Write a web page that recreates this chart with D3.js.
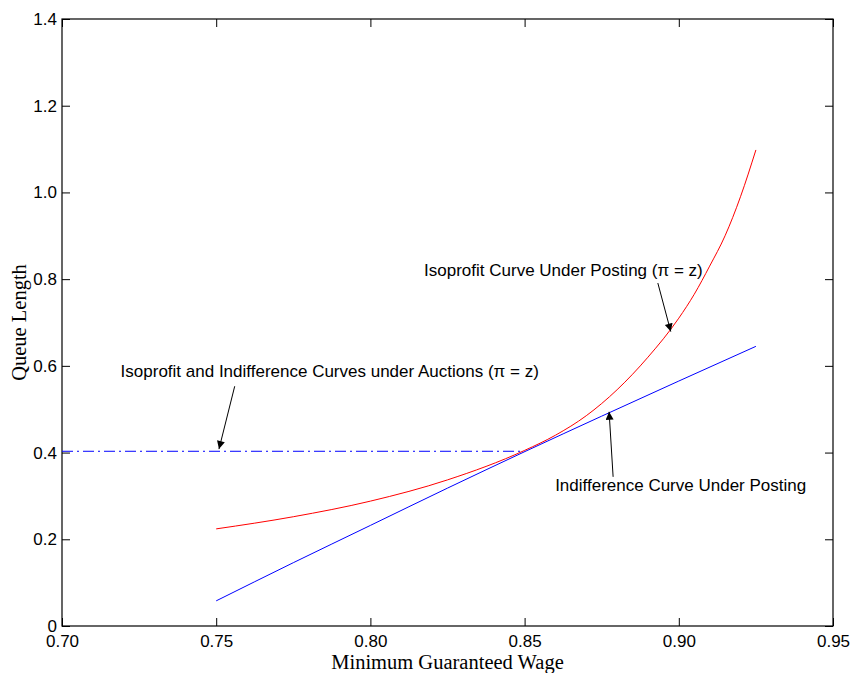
<!DOCTYPE html>
<html>
<head>
<meta charset="utf-8">
<script src="https://cdn.jsdelivr.net/npm/d3@7"></script>
<style>
  body { margin: 0; background: #fff; }
  text { font-family: "Liberation Sans", Arial, sans-serif; }
  .serif { font-family: "Liberation Serif", "Times New Roman", serif; }
</style>
</head>
<body>
<div id="chart"></div>
<script>
// wage values on x, queue length on y
var xTicks = [0.70, 0.75, 0.80, 0.85, 0.90, 0.95]
var yTicks = [0, 0.2, 0.4, 0.6, 0.8, 1.0, 1.2, 1.4]

var isoWage = [0.75, 0.775, 0.80, 0.825, 0.85, 0.86, 0.87, 0.88, 0.89, 0.90, 0.905, 0.91, 0.915, 0.92, 0.925]
var isoQueue = [0.224, 0.252, 0.288, 0.337, 0.405, 0.44, 0.485, 0.545, 0.62, 0.71, 0.765, 0.83, 0.90, 0.99, 1.098]

var indWage = [0.75, 0.775, 0.80, 0.825, 0.85, 0.875, 0.90, 0.925]
var indQueue = [0.058, 0.146, 0.232, 0.318, 0.402, 0.484, 0.565, 0.645]

var auctionWage = [0.70, 0.85]
var auctionQueue = [0.403, 0.403]

// annotations: text anchor and arrow (from -> tip), in data units
var notes = [
  {text: "Isoprofit and Indifference Curves under Auctions (\u03c0 = z)", x: 0.719, y: 0.574, ax: 0.756, ay: 0.553, tx: 0.7509, ty: 0.408},
  {text: "Isoprofit Curve Under Posting (\u03c0 = z)", x: 0.8174, y: 0.807, ax: 0.8932, ay: 0.791, tx: 0.8974, ty: 0.679},
  {text: "Indifference Curve Under Posting", x: 0.8599, y: 0.311, ax: 0.8787, ay: 0.344, tx: 0.8774, ty: 0.494}
]

var margin = {top: 19, right: 18, bottom: 47, left: 62},
    W = 851, H = 673,
    width = W - margin.left - margin.right,
    height = H - margin.top - margin.bottom;

var svg = d3.select("#chart")
  .append("svg")
    .attr("width", W)
    .attr("height", H)
  .append("g")
    .attr("transform", "translate(" + margin.left + "," + margin.top + ")");

var x = d3.scaleLinear().domain([0.70, 0.95]).range([0, width])
var y = d3.scaleLinear().domain([0, 1.4]).range([height, 0])

var yFmt = function(d) { return d === 0 ? "0" : d3.format(".1f")(d) }

// axes, ticks pointing inward, mirrored on top/right
function styleAxis(g) {
  g.select(".domain").remove()
  g.selectAll("line").attr("stroke", "#000")
  g.selectAll("text").attr("font-size", 17).attr("fill", "#000")
    .style("font-family", "'Liberation Sans', Arial, sans-serif")
}

svg.append("g")
  .attr("transform", "translate(0," + height + ")")
  .call(d3.axisBottom(x).tickValues(xTicks).tickFormat(d3.format(".2f")).tickSizeInner(-8).tickPadding(9))
  .call(styleAxis)
svg.append("g")
  .call(d3.axisTop(x).tickValues(xTicks).tickFormat("").tickSizeInner(-8))
  .call(styleAxis)
svg.append("g")
  .call(d3.axisLeft(y).tickValues(yTicks).tickFormat(yFmt).tickSizeInner(-8).tickPadding(5))
  .call(styleAxis)
svg.append("g")
  .attr("transform", "translate(" + width + ",0)")
  .call(d3.axisRight(y).tickValues(yTicks).tickFormat("").tickSizeInner(-8))
  .call(styleAxis)

svg.append("rect")
  .attr("width", width).attr("height", height)
  .attr("fill", "none").attr("stroke", "#000").attr("stroke-width", 1.2)

var line = d3.line()
  .x(function(d) { return x(d[0]) })
  .y(function(d) { return y(d[1]) })
  .curve(d3.curveMonotoneX)

svg.append("path")
  .datum(d3.zip(auctionWage, auctionQueue))
  .attr("fill", "none")
  .attr("stroke", "#0000ff")
  .attr("stroke-dasharray", "11,4,2,4")
  .attr("d", line)

svg.append("path")
  .datum(d3.zip(indWage, indQueue))
  .attr("fill", "none")
  .attr("stroke", "#0000ff")
  .attr("d", line)

svg.append("path")
  .datum(d3.zip(isoWage, isoQueue))
  .attr("fill", "none")
  .attr("stroke", "#ff0000")
  .attr("d", line)

// arrowheads
svg.append("defs").append("marker")
  .attr("id", "arrow")
  .attr("viewBox", "0 0 10 10")
  .attr("refX", 10).attr("refY", 5)
  .attr("markerWidth", 12).attr("markerHeight", 8)
  .attr("markerUnits", "userSpaceOnUse")
  .attr("orient", "auto")
  .append("path").attr("d", "M0,0L10,5L0,10Z").attr("fill", "#000")

svg.selectAll(".note-arrow")
  .data(notes)
  .enter().append("line")
    .attr("x1", function(d) { return x(d.ax) })
    .attr("y1", function(d) { return y(d.ay) })
    .attr("x2", function(d) { return x(d.tx) })
    .attr("y2", function(d) { return y(d.ty) })
    .attr("stroke", "#000")
    .attr("marker-end", "url(#arrow)")

svg.selectAll(".note-text")
  .data(notes)
  .enter().append("text")
    .attr("x", function(d) { return x(d.x) })
    .attr("y", function(d) { return y(d.y) })
    .attr("font-size", 17)
    .text(function(d) { return d.text })

// axis titles
svg.append("text")
  .attr("class", "serif")
  .attr("x", width / 2)
  .attr("y", height + 43)
  .attr("text-anchor", "middle")
  .attr("font-size", 20.5)
  .text("Minimum Guaranteed Wage")

svg.append("text")
  .attr("class", "serif")
  .attr("transform", "translate(-36," + (height / 2) + ") rotate(-90)")
  .attr("text-anchor", "middle")
  .attr("font-size", 20.5)
  .text("Queue Length")
</script>
</body>
</html>
